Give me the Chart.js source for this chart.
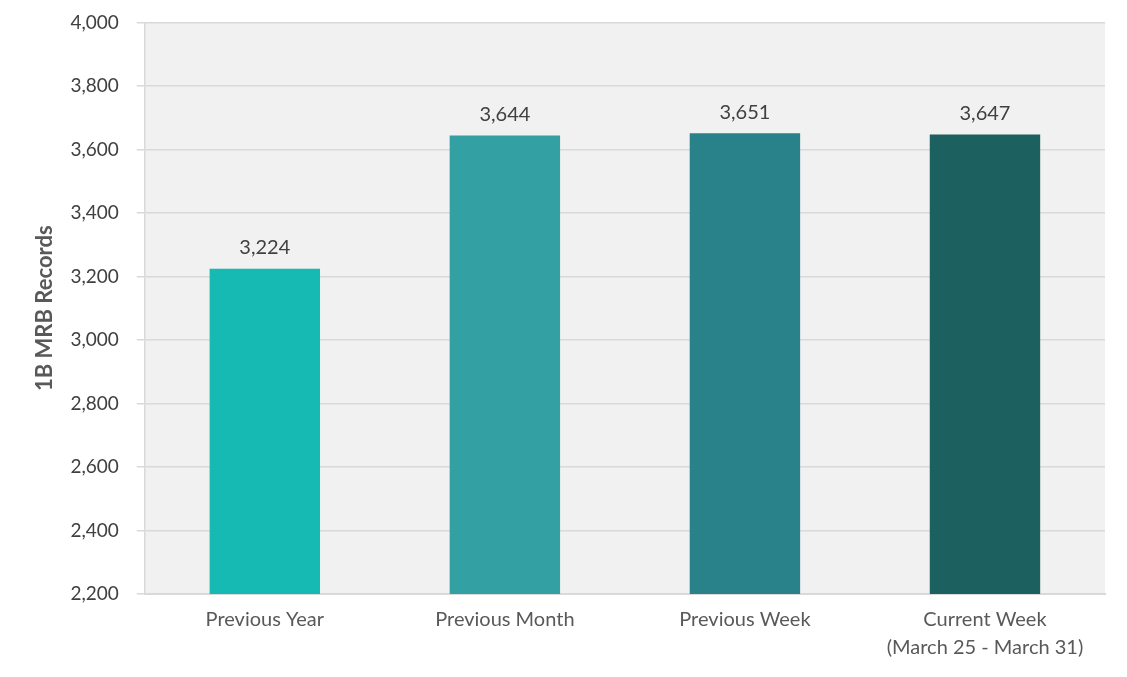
<!DOCTYPE html>
<html>
<head>
<meta charset="utf-8">
<script src="https://cdn.jsdelivr.net/npm/chart.js@4"></script>
<style>
    html, body { margin: 0; padding: 0; background: #ffffff; overflow: hidden; }
    #wrap { position: relative; width: 1127px; height: 677px; overflow: hidden; }
    #chart { position: absolute; left: 0; top: -7px; }
</style>
</head>
<body>
<div id="wrap"><canvas id="chart" width="1127" height="684"></canvas></div>
<script>
var categories = ["Previous Year", "Previous Month", "Previous Week", ["Current Week", "(March 25 - March 31)"]];
var records = [3224, 3644, 3651, 3647];
var barColors = ["#17bab3", "#33a0a3", "#29828a", "#1c605f"];
var yMin = 2200;
var yMax = 4000;
var yStep = 200;

var plotBackground = {
    id: "plotBackground",
    beforeDraw: function (chart) {
        var a = chart.chartArea;
        var ctx = chart.ctx;
        ctx.save();
        ctx.fillStyle = "#f1f1f1";
        ctx.fillRect(a.left, a.top, a.right - a.left, a.bottom - a.top);
        ctx.restore();
    }
};

var valueLabels = {
    id: "valueLabels",
    afterDatasetsDraw: function (chart) {
        var ctx = chart.ctx;
        var meta = chart.getDatasetMeta(0);
        ctx.save();
        ctx.font = "20px Lato";
        ctx.fillStyle = "#404040";
        ctx.textAlign = "center";
        ctx.textBaseline = "bottom";
        for (var i = 0; i < meta.data.length; i++) {
            var bar = meta.data[i];
            ctx.fillText(records[i].toLocaleString("en-US"), bar.x, bar.y - 11);
        }
        ctx.restore();
    }
};

new Chart(document.getElementById("chart").getContext("2d"), {
    type: "bar",
    data: {
        labels: categories,
        datasets: [{
            data: records,
            backgroundColor: barColors,
            barPercentage: 0.46,
            categoryPercentage: 1
        }]
    },
    options: {
        responsive: false,
        animation: false,
        layout: { padding: { top: 0, right: 22, left: 32, bottom: 3 } },
        plugins: {
            legend: { display: false },
            tooltip: { enabled: false }
        },
        scales: {
            x: {
                grid: { display: false, drawTicks: false },
                border: { color: "#d9d9d9", width: 2 },
                ticks: {
                    color: "#595959",
                    font: { family: "Lato", size: 20, lineHeight: 1.4 },
                    padding: 12,
                    maxRotation: 0
                }
            },
            y: {
                min: yMin,
                max: yMax,
                grid: { color: "#d9d9d9", lineWidth: 1.5, tickLength: 8 },
                border: { color: "#d9d9d9", width: 1.5 },
                ticks: {
                    stepSize: yStep,
                    color: "#404040",
                    font: { family: "Lato", size: 19 },
                    padding: 18,
                    callback: function (v) { return v.toLocaleString("en-US"); }
                },
                title: {
                    display: true,
                    text: "1B MRB Records",
                    color: "#595959",
                    font: { family: "Lato", size: 22, weight: "bold" },
                    padding: { top: 0, bottom: -6 }
                }
            }
        }
    },
    plugins: [plotBackground, valueLabels]
});
</script>
</body>
</html>
